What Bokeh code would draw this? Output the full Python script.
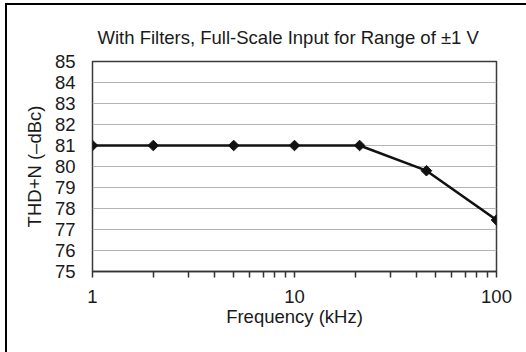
import math
from bokeh.plotting import figure
from bokeh.models import FixedTicker, BasicTickFormatter, Range1d, ColumnDataSource
from bokeh.embed import file_html
from bokeh.resources import INLINE

# Data
freq_khz = [1, 2, 5, 10, 21, 45, 100]
thd_n = [81, 81, 81, 81, 81, 79.8, 77.45]
x_major = [1, 10, 100]
x_minor = [2, 3, 4, 5, 6, 7, 8, 9, 20, 30, 40, 50, 60, 70, 80, 90]
y_ticks = [75, 76, 77, 78, 79, 80, 81, 82, 83, 84, 85]
title_text = "With Filters, Full-Scale Input for Range of \u00b11 V"
x_label = "Frequency (kHz)"
y_label = "THD+N (\u2013dBc)"

FONT = "Liberation Sans"
FS = "18.5px"
TXT = "#1a1a1a"

p = figure(
    width=526, height=352,
    x_axis_type="log",
    x_range=Range1d(1, 100), y_range=Range1d(75, 85),
    output_backend="svg", toolbar_location=None,
    min_border_left=92, min_border_right=30,
    min_border_top=61, min_border_bottom=81,
    title=title_text,
    styles={"background-color": "#fff",
            "box-shadow": "inset 5px 3px 0 0 #fff, inset 7px 5px 0 0 #000"},
)

p.title.text_font = FONT
p.title.text_font_size = FS
p.title.text_font_style = "normal"
p.title.text_color = TXT
p.title.align = "left"
p.title.offset = 5
p.title.standoff = 27

p.outline_line_color = "#3a3a3a"
p.outline_line_width = 1.5
p.background_fill_color = "white"
p.border_fill_alpha = 0

# grids
p.xgrid.grid_line_color = None
p.ygrid.grid_line_color = "#b4b4b4"
p.ygrid.grid_line_width = 1.2
p.ygrid.ticker = FixedTicker(ticks=y_ticks)

# x axis
xa = p.xaxis[0]
xa.ticker = FixedTicker(ticks=x_major, minor_ticks=x_minor)
xa.formatter = BasicTickFormatter()
xa.axis_line_color = "#333333"
xa.axis_line_width = 1.5
xa.major_tick_line_color = "#333333"
xa.minor_tick_line_color = "#333333"
xa.major_tick_line_width = 1.5
xa.minor_tick_line_width = 1.5
xa.major_tick_in = 0
xa.major_tick_out = 6
xa.minor_tick_in = 0
xa.minor_tick_out = 6
xa.major_label_text_font = FONT
xa.major_label_text_font_size = FS
xa.major_label_text_color = TXT
xa.major_label_standoff = 12
xa.axis_label = x_label
xa.axis_label_text_font = FONT
xa.axis_label_text_font_size = FS
xa.axis_label_text_font_style = "normal"
xa.axis_label_text_color = TXT
xa.axis_label_standoff = 0

# y axis
ya = p.yaxis[0]
ya.ticker = FixedTicker(ticks=y_ticks)
ya.axis_line_color = None
ya.major_tick_line_color = None
ya.minor_tick_line_color = None
ya.major_tick_in = 0
ya.major_tick_out = 0
ya.minor_tick_in = 0
ya.minor_tick_out = 0
ya.major_label_text_font = FONT
ya.major_label_text_font_size = FS
ya.major_label_text_color = TXT
ya.major_label_standoff = 17
ya.axis_label = y_label
ya.axis_label_text_font = FONT
ya.axis_label_text_font_size = FS
ya.axis_label_text_font_style = "normal"
ya.axis_label_text_color = TXT
ya.axis_label_standoff = 7

src = ColumnDataSource(data=dict(x=freq_khz, y=thd_n))
p.line("x", "y", source=src, line_color="#111111", line_width=2.5)
p.scatter("x", "y", source=src, marker="square", size=7.5, angle=math.pi / 4,
          fill_color="#111111", line_color="#111111", line_width=1)

open("out.html", "w").write(file_html(p, INLINE))
